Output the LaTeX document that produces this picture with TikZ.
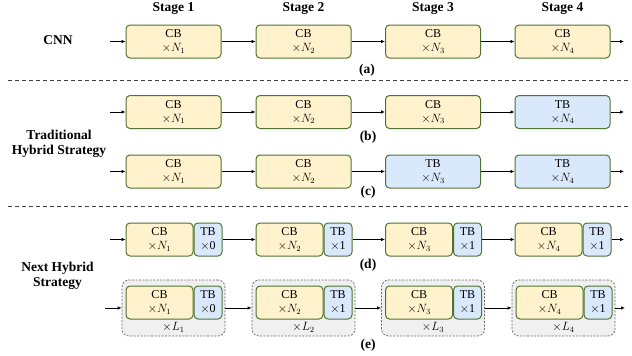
\documentclass[tikz,border=0pt]{standalone}
\usepackage{fontspec}
\setmainfont{Liberation Serif}
\usetikzlibrary{positioning,arrows.meta}

\definecolor{cbfill}{HTML}{FFF2CC}
\definecolor{tbfill}{HTML}{DAE8FC}
\definecolor{blkedge}{HTML}{4F7431}
\definecolor{grpfill}{HTML}{F0F0F0}

\tikzset{
  blk/.style={draw=blkedge, line width=1pt, rounded corners=4pt, minimum height=33pt,
    inner sep=0pt, align=center, font=\fontsize{12}{14}\selectfont},
  cb/.style={blk, fill=cbfill, minimum width=95pt},
  tb/.style={blk, fill=tbfill, minimum width=95pt},
  cbpart/.style={cb, minimum width=67pt},
  tbpart/.style={tb, minimum width=28pt},
  grp/.style={draw=gray!80!black, dash pattern=on 2pt off 1.5pt, line width=0.7pt,
    fill=grpfill, rounded corners=7pt, minimum width=103pt, minimum height=56pt},
  flow/.style={-{Latex[length=4pt,width=3.5pt]}, line width=0.7pt},
  lbl/.style={font=\fontsize{13.5}{15.5}\selectfont\bfseries, align=center},
  sep/.style={dash pattern=on 4pt off 3pt, line width=0.7pt, black!75},
}

\begin{document}
\begin{tikzpicture}[x=1pt,y=-1pt]
  \useasboundingbox (0,0) rectangle (632,356);

  % stage titles
  \node[lbl, anchor=base] (s1) at (173.5,12) {Stage 1};
  \node[lbl, anchor=base] (s2) at (303.5,12) {Stage 2};
  \node[lbl, anchor=base] (s3) at (433,12) {Stage 3};
  \node[lbl, anchor=base] (s4) at (562.5,12) {Stage 4};

  % row labels
  \node[lbl] (cnn) at (58,40) {CNN};
  \node[lbl] (trad) at (59,144) {Traditional\\Hybrid Strategy};
  \node[lbl] (next) at (57.5,276) {Next Hybrid\\Strategy};

  \draw[sep] (8,80) -- (628,80);
  \draw[sep] (8,206) -- (628,206);

  % (a) plain CNN
  \coordinate (a0) at (110,41.5);
  \node[cb] (a1) at (173.5,41.5) {CB\\$\times N_1$};
  \node[cb] (a2) at (303.5,41.5) {CB\\$\times N_2$};
  \node[cb] (a3) at (433,41.5) {CB\\$\times N_3$};
  \node[cb] (a4) at (562.5,41.5) {CB\\$\times N_4$};
  \coordinate (a5) at (624,41.5);
  \foreach \i/\j in {0/1,1/2,2/3,3/4,4/5} \draw[flow] (a\i) -- (a\j);
  \node[lbl] (la) at (367,70) {(a)};

  % (b) transformer in the last stage
  \coordinate (b0) at (110,112);
  \node[cb] (b1) at (173.5,112) {CB\\$\times N_1$};
  \node[cb] (b2) at (303.5,112) {CB\\$\times N_2$};
  \node[cb] (b3) at (433,112) {CB\\$\times N_3$};
  \node[tb] (b4) at (562.5,112) {TB\\$\times N_4$};
  \coordinate (b5) at (624,112);
  \foreach \i/\j in {0/1,1/2,2/3,3/4,4/5} \draw[flow] (b\i) -- (b\j);
  \node[lbl] (lb) at (368,137) {(b)};

  % (c) transformer in the last two stages
  \coordinate (c0) at (110,171.5);
  \node[cb] (c1) at (173.5,171.5) {CB\\$\times N_1$};
  \node[cb] (c2) at (303.5,171.5) {CB\\$\times N_2$};
  \node[tb] (c3) at (433,171.5) {TB\\$\times N_3$};
  \node[tb] (c4) at (562.5,171.5) {TB\\$\times N_4$};
  \coordinate (c5) at (624,171.5);
  \foreach \i/\j in {0/1,1/2,2/3,3/4,4/5} \draw[flow] (c\i) -- (c\j);
  \node[lbl] (lc) at (368,192) {(c)};

  % (d) conv blocks followed by one transformer block
  \coordinate (d0) at (110,239.5);
  \node[cbpart] (d1c) at (159.5,239.5) {CB\\$\times N_1$};
  \node[tbpart, right=0pt of d1c] (d1t) {TB\\$\times$0};
  \node[cbpart] (d2c) at (289.5,239.5) {CB\\$\times N_2$};
  \node[tbpart, right=0pt of d2c] (d2t) {TB\\$\times$1};
  \node[cbpart] (d3c) at (419,239.5) {CB\\$\times N_3$};
  \node[tbpart, right=0pt of d3c] (d3t) {TB\\$\times$1};
  \node[cbpart] (d4c) at (548.5,239.5) {CB\\$\times N_4$};
  \node[tbpart, right=0pt of d4c] (d4t) {TB\\$\times$1};
  \coordinate (d5) at (624,239.5);
  \draw[flow] (d0) -- (d1c);
  \draw[flow] (d1t) -- (d2c);
  \draw[flow] (d2t) -- (d3c);
  \draw[flow] (d3t) -- (d4c);
  \draw[flow] (d4t) -- (d5);
  \node[lbl] (ld) at (368,265) {(d)};

  % (e) the pair repeated L times
  \coordinate (e0) at (105,308);
  \node[grp] (e1) at (173.5,308) {};
  \node[grp] (e2) at (303.5,308) {};
  \node[grp] (e3) at (433,308) {};
  \node[grp] (e4) at (563.5,308) {};
  \coordinate (e5) at (625,308);
  \foreach \i/\j in {0/1,1/2,2/3,3/4,4/5} \draw[flow] (e\i) -- (e\j);

  \node[cbpart] (e1c) at (159.5,302.5) {CB\\$\times N_1$};
  \node[tbpart, right=0pt of e1c] (e1t) {TB\\$\times$0};
  \node[cbpart] (e2c) at (289.5,302.5) {CB\\$\times N_2$};
  \node[tbpart, right=0pt of e2c] (e2t) {TB\\$\times$1};
  \node[cbpart] (e3c) at (419,302.5) {CB\\$\times N_3$};
  \node[tbpart, right=0pt of e3c] (e3t) {TB\\$\times$1};
  \node[cbpart] (e4c) at (549.5,302.5) {CB\\$\times N_4$};
  \node[tbpart, right=0pt of e4c] (e4t) {TB\\$\times$1};

  \node[font=\fontsize{12}{14}\selectfont] (r1) at (173.5,327) {$\times L_1$};
  \node[font=\fontsize{12}{14}\selectfont] (r2) at (303.5,327) {$\times L_2$};
  \node[font=\fontsize{12}{14}\selectfont] (r3) at (433,327) {$\times L_3$};
  \node[font=\fontsize{12}{14}\selectfont] (r4) at (563.5,327) {$\times L_4$};
  \node[lbl] (le) at (368,345) {(e)};
\end{tikzpicture}
\end{document}
